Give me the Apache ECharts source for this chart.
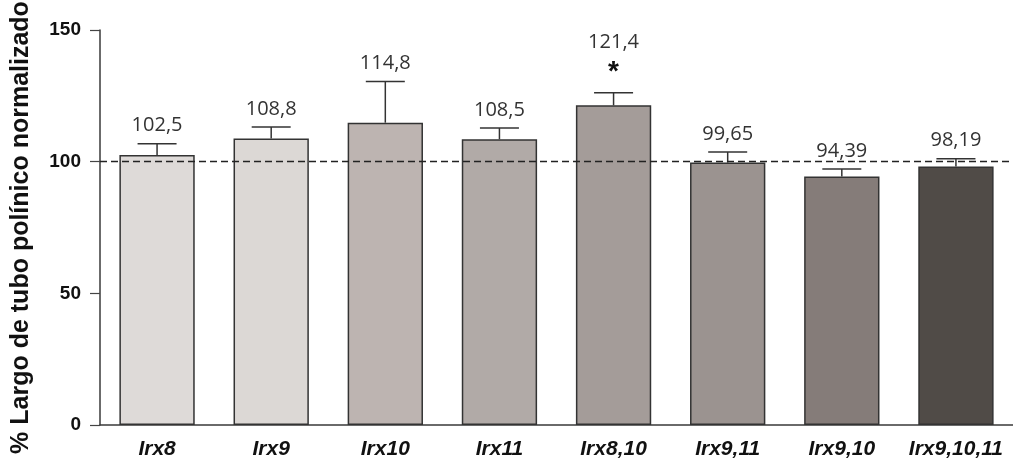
<!DOCTYPE html>
<html>
<head>
<meta charset="utf-8">
<script src="https://cdn.jsdelivr.net/npm/echarts@6/dist/echarts.min.js"></script>
<style>html,body{margin:0;padding:0;background:#fff}#c{width:1013px;height:466px}</style>
</head>
<body>
<div id="c"></div>
<script>
var categories = ['Irx8', 'Irx9', 'Irx10', 'Irx11', 'Irx8,10', 'Irx9,11', 'Irx9,10', 'Irx9,10,11'];
var means = [102.5, 108.8, 114.8, 108.5, 121.4, 99.65, 94.39, 98.19];
var errors = [4.3, 4.4, 15.6, 4.3, 4.8, 4.0, 2.8, 2.9];
var valueLabels = ['102,5', '108,8', '114,8', '108,5', '121,4', '99,65', '94,39', '98,19'];
var marks = ['', '', '', '', '*', '', '', ''];
var barColors = ['#dedad8', '#dcd8d5', '#bdb4b1', '#b1aaa7', '#a49c99', '#9b9390', '#857c79', '#504b47'];
var yTicks = [0, 50, 100, 150];
var refLine = 100;

var chart = echarts.init(document.getElementById('c'), null, {renderer: 'canvas'});
var errData = means.map(function (m, i) { return [i, m, m + errors[i]]; });

chart.setOption({
  animation: false,
  backgroundColor: '#fff',
  grid: {left: 100, right: 0, top: 30, bottom: 41, containLabel: false, outerBoundsMode: 'none'},
  xAxis: {
    type: 'category',
    data: categories,
    axisLine: {lineStyle: {color: '#3a3a3a', width: 1.5}},
    axisTick: {alignWithLabel: true, length: 11, lineStyle: {color: '#444', width: 1.2}},
    axisLabel: {
      interval: 0,
      hideOverlap: false,
      margin: 14,
      fontFamily: 'Liberation Sans, Arial, sans-serif',
      fontSize: 21, fontWeight: 'bold', fontStyle: 'italic', color: '#111'
    }
  },
  yAxis: {
    type: 'value',
    min: yTicks[0], max: yTicks[yTicks.length - 1], interval: 50,
    name: '% Largo de tubo polínico normalizado',
    nameLocation: 'middle',
    nameGap: 66,
    nameTextStyle: {fontFamily: 'Liberation Sans, Arial, sans-serif', fontSize: 25, fontWeight: 'bold', color: '#111'},
    axisLine: {show: true, lineStyle: {color: '#3a3a3a', width: 1.5}},
    axisTick: {show: true, length: 10, lineStyle: {color: '#444', width: 1.2}},
    splitLine: {show: false},
    axisLabel: {
      margin: 19,
      fontFamily: 'Liberation Sans, Arial, sans-serif',
      fontSize: 19, fontWeight: 'bold', color: '#111'
    }
  },
  series: [
    {
      type: 'bar',
      barWidth: '66%',
      data: means.map(function (v, i) {
        return {value: v, itemStyle: {color: barColors[i]}};
      }),
      itemStyle: {borderColor: '#333', borderWidth: 1.5},
      markLine: {
        silent: true,
        symbol: 'none',
        label: {show: false},
        lineStyle: {color: '#222', type: [7, 4], width: 1.3},
        data: [{yAxis: refLine}]
      },
      z: 2
    },
    {
      type: 'custom',
      data: errData,
      z: 3,
      renderItem: function (params, api) {
        var i = api.value(0);
        var top = api.coord([i, api.value(1)]);
        var cap = api.coord([i, api.value(2)]);
        var x = top[0], hw = 19.5;
        var children = [
          {type: 'line', shape: {x1: x, y1: top[1], x2: x, y2: cap[1]}, style: {stroke: '#333', lineWidth: 1.5}},
          {type: 'line', shape: {x1: x - hw, y1: cap[1], x2: x + hw, y2: cap[1]}, style: {stroke: '#333', lineWidth: 1.5}}
        ];
        var mk = marks[i];
        if (mk) {
          children.push({type: 'text', style: {text: mk, x: x, y: cap[1] - 20, align: 'center', verticalAlign: 'middle',
            font: 'bold 28px "Liberation Sans", Arial, sans-serif', fill: '#111'}});
          children.push({type: 'text', style: {text: valueLabels[i], x: x, y: cap[1] - 50, align: 'center', verticalAlign: 'middle',
            font: '20px "Open Sans", sans-serif', fill: '#333'}});
        } else {
          children.push({type: 'text', style: {text: valueLabels[i], x: x, y: cap[1] - 18, align: 'center', verticalAlign: 'middle',
            font: '20px "Open Sans", sans-serif', fill: '#333'}});
        }
        return {type: 'group', children: children};
      }
    }
  ]
});
</script>
</body>
</html>
